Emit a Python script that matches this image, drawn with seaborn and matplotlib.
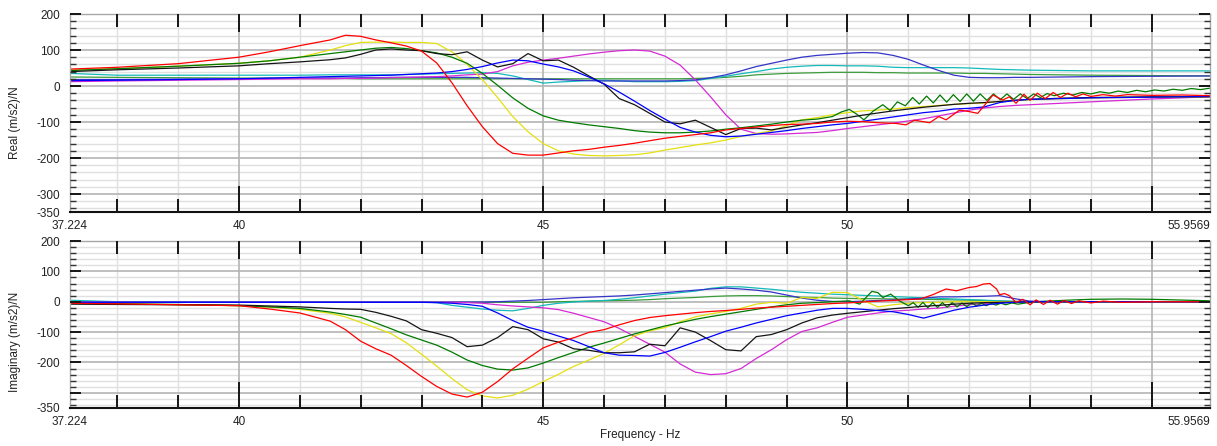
import matplotlib
matplotlib.use("Agg")
import matplotlib.pyplot as plt
import pandas as pd
import seaborn as sns
from matplotlib.ticker import MultipleLocator

# ---------------- data ----------------
freq = [37.224, 38, 39, 40, 40.5, 41, 41.5, 41.75,
        42, 42.25, 42.5, 42.75, 43, 43.25, 43.5, 43.75,
        44, 44.25, 44.5, 44.75, 45, 45.25, 45.5, 45.75,
        46, 46.25, 46.5, 46.75, 47, 47.25, 47.5, 47.75,
        48, 48.25, 48.5, 48.75, 49, 49.25, 49.5, 49.75,
        50, 50.25, 50.5, 50.75, 51, 51.25, 51.5, 51.75,
        52, 52.25, 52.5, 52.75, 53, 53.5, 54, 55, 55.9569]

# ---- Real part (m/s2)/N ----
red_re_freq = [37.224, 38, 39, 40, 40.5, 41, 41.5, 41.75,
               42, 42.25, 42.5, 42.75, 43, 43.25, 43.5, 43.75,
               44, 44.25, 44.5, 44.75, 45, 45.25, 45.5, 45.75,
               46, 46.25, 46.5, 46.75, 47, 47.25, 47.5, 47.75,
               48, 48.25, 48.5, 48.75, 49, 49.25, 49.5, 49.75,
               50, 50.25, 50.5, 50.8, 50.96, 51.1, 51.35, 51.5,
               51.62, 51.84, 52.0, 52.14, 52.28, 52.39, 52.55, 52.66,
               52.77, 52.9, 53.0, 53.12, 53.25, 53.38, 53.5, 53.62,
               53.75, 53.87, 54.0, 54.2, 54.4, 54.6, 55, 55.5, 55.9569]
red_re = [47, 52, 62, 80, 95, 112, 128, 141,
          138, 128, 120, 111, 97, 64, 9, -55,
          -113, -160, -187, -192, -192, -186, -180, -176,
          -170, -165, -159, -152, -145, -140, -135, -130,
          -122, -118, -114, -110, -107, -106, -104, -100,
          -98, -99, -102, -104, -108, -95, -102, -85,
          -94, -67, -71, -76, -48, -25, -39, -30,
          -48, -23, -40, -20, -35, -18, -32, -20,
          -30, -22, -29, -24, -28, -24, -26, -25, -27]
yellow_re = [44, 48, 55, 63, 70, 80, 100, 112,
             121, 122, 122, 121, 121, 118, 95, 60,
             18, -32, -85, -127, -160, -180, -189, -193,
             -194, -193, -191, -186, -178, -171, -164, -158,
             -150, -140, -132, -125, -110, -94, -88, -80,
             -74, -69, -67, -64, -60, -57, -54, -51,
             -49, -47, -43, -40, -38, -35, -33, -31, -30]
green_re_freq = [37.224, 38, 39, 40, 40.5, 41, 41.5, 41.75,
                 42, 42.25, 42.5, 42.75, 43, 43.25, 43.5, 43.75,
                 44, 44.25, 44.5, 44.75, 45, 45.25, 45.5, 45.75,
                 46, 46.25, 46.5, 46.75, 47, 47.25, 47.5, 47.75,
                 48, 48.25, 48.5, 48.75, 49, 49.25, 49.5, 49.75,
                 49.9, 50.03, 50.15, 50.27, 50.42, 50.58, 50.7, 50.82,
                 50.95, 51.07, 51.18, 51.3, 51.41, 51.52, 51.63, 51.74,
                 51.85, 51.96, 52.07, 52.18, 52.29, 52.4, 52.51, 52.62,
                 52.73, 52.84, 52.95, 53.06, 53.17, 53.28, 53.4, 53.55,
                 53.7, 53.85, 54.0, 54.15, 54.3, 54.45, 54.6, 54.75,
                 54.9, 55.05, 55.2, 55.35, 55.5, 55.65, 55.8, 55.9569]
green_re = [43, 48, 55, 63, 70, 80, 90, 95,
            100, 105, 107, 104, 98, 92, 80, 63,
            35, 2, -33, -62, -83, -95, -102, -108,
            -113, -118, -124, -128, -130, -130, -128, -125,
            -120, -116, -111, -106, -100, -95, -92, -85,
            -72, -65, -78, -94, -70, -52, -68, -44,
            -55, -32, -50, -28, -47, -25, -45, -24,
            -43, -22, -42, -22, -40, -22, -38, -22,
            -37, -22, -35, -22, -32, -21, -27, -20,
            -25, -18, -22, -16, -20, -14, -18, -12,
            -16, -11, -14, -9, -12, -7, -10, -6]
black_re = [40, 45, 50, 56, 62, 67, 73, 78,
            88, 100, 103, 100, 98, 90, 87, 95,
            72, 53, 62, 90, 70, 72, 52, 28,
            5, -35, -52, -76, -100, -105, -95, -115,
            -135, -118, -117, -122, -115, -108, -102, -95,
            -88, -81, -75, -69, -64, -59, -55, -51,
            -48, -46, -43, -40, -37, -34, -32, -30, -30]
blue_re = [15, 16, 18, 20, 22, 24, 26, 27,
           28, 29, 30, 32, 34, 36, 40, 46,
           54, 64, 72, 70, 61, 53, 42, 25,
           6, -17, -42, -68, -92, -115, -128, -137,
           -141, -139, -134, -129, -124, -118, -113, -108,
           -104, -98, -92, -86, -80, -74, -70, -64,
           -62, -58, -46, -40, -37, -35, -33, -31, -29]
magenta_re = [12, 14, 16, 18, 19, 20, 20, 21,
              21, 22, 23, 24, 25, 26, 28, 31,
              33, 40, 56, 66, 72, 77, 83, 89,
              94, 98, 100, 97, 83, 58, 17, -30,
              -80, -120, -132, -134, -133, -131, -129, -124,
              -118, -113, -108, -103, -97, -91, -83, -75,
              -67, -61, -57, -54, -52, -48, -44, -36, -30]
cyan_re = [35, 30, 30, 30, 30, 30, 31, 31,
           31, 31, 31, 32, 33, 34, 35, 36,
           37, 35, 28, 18, 8, 11, 13, 15,
           16, 14, 12, 12, 12, 13, 15, 21,
           27, 34, 40, 47, 52, 55, 57, 57,
           56, 56, 55, 52, 51, 51, 51, 51,
           50, 48, 46, 45, 44, 43, 42, 42, 42]
mblue_re = [18, 18, 19, 20, 21, 22, 22, 22,
            23, 23, 24, 24, 24, 24, 24, 24,
            23, 22, 21, 20, 19, 18, 16, 15,
            14, 14, 14, 14, 14, 15, 17, 23,
            31, 42, 54, 63, 72, 80, 85, 88,
            91, 93, 92, 85, 74, 58, 43, 30,
            24, 23, 23, 24, 24, 25, 26, 27, 28]
mgreen_re = [25, 24, 23, 22, 22, 21, 21, 21,
             20, 20, 20, 20, 20, 20, 20, 20,
             20, 20, 20, 20, 20, 20, 20, 20,
             20, 20, 20, 20, 20, 20, 21, 22,
             24, 27, 31, 33, 35, 36, 37, 38,
             38, 38, 37, 37, 36, 36, 36, 36,
             35, 35, 34, 33, 32, 31, 30, 29, 28]

# ---- Imaginary part (m/s2)/N ----
red_im_freq = [37.224, 38, 39, 40, 40.5, 41, 41.5, 41.75,
               42, 42.25, 42.5, 42.75, 43, 43.25, 43.5, 43.75,
               44, 44.25, 44.5, 44.75, 45, 45.25, 45.5, 45.75,
               46, 46.25, 46.5, 46.75, 47, 47.25, 47.5, 47.75,
               48, 48.25, 48.5, 48.75, 49, 49.25, 49.5, 49.75,
               50, 50.4, 50.8, 51.2, 51.4, 51.62, 51.79, 52.0,
               52.12, 52.23, 52.34, 52.45, 52.5, 52.58, 52.66, 52.77,
               52.88, 53.0, 53.1, 53.22, 53.33, 53.45, 53.56, 53.68,
               53.8, 54.0, 54.2, 54.5, 55, 55.9569]
red_im = [-5, -7, -10, -13, -24, -37, -64, -92,
          -130, -155, -176, -210, -246, -279, -304, -314,
          -298, -263, -221, -186, -152, -133, -119, -101,
          -92, -76, -62, -52, -46, -41, -36, -32,
          -29, -25, -21, -18, -15, -12, -9, -6,
          -4, 1, 5, 9, 23, 42, 36, 47,
          50, 58, 60, 42, 23, 27, 20, -2,
          8, -10, 6, -9, 5, -8, 4, -6,
          3, -4, 2, -2, 0, 0]
yellow_im = [-5, -7, -10, -13, -18, -25, -38, -50,
             -68, -86, -105, -135, -173, -212, -253, -290,
             -310, -317, -308, -288, -263, -239, -213, -192,
             -170, -142, -112, -96, -85, -66, -50, -40,
             -32, -22, -8, -2, -5, 14, 11, 31,
             30, 5, -17, -10, -5, -3, -2, 0,
             0, 0, 0, 0, 0, 0, 0, 0, 0]
green_im_freq = [37.224, 38, 39, 40, 40.5, 41, 41.5, 41.75,
                 42, 42.25, 42.5, 42.75, 43, 43.25, 43.5, 43.75,
                 44, 44.25, 44.5, 44.75, 45, 45.25, 45.5, 45.75,
                 46, 46.25, 46.5, 46.75, 47, 47.25, 47.5, 47.75,
                 48, 48.25, 48.5, 48.75, 49, 49.25, 49.5, 49.75,
                 50.03, 50.2, 50.4, 50.5, 50.58, 50.71, 50.85, 51.0,
                 51.08, 51.16, 51.24, 51.32, 51.4, 51.48, 51.56, 51.64,
                 51.72, 51.8, 51.88, 51.96, 52.04, 52.12, 52.2, 52.28,
                 52.36, 52.44, 52.52, 52.6, 52.7, 52.8, 53, 53.3,
                 53.6, 54, 54.5, 55, 55.9569]
green_im = [-5, -7, -9, -13, -17, -22, -34, -42,
            -51, -70, -89, -109, -126, -143, -166, -192,
            -210, -222, -225, -218, -202, -184, -167, -150,
            -136, -121, -106, -93, -80, -69, -58, -49,
            -41, -33, -25, -17, -10, -5, -3, 0,
            3, -8, 34, 30, 14, 25, 3, -13,
            -3, -18, -2, -20, -3, -19, -3, -18,
            -3, -17, -4, -16, -4, -14, -5, -13,
            -5, -11, -5, -10, -4, -8, -2, 2,
            5, 8, 9, 8, 3]
black_im = [-8, -9, -10, -11, -14, -17, -22, -24,
            -25, -35, -48, -63, -92, -104, -118, -148,
            -143, -118, -82, -92, -122, -133, -155, -160,
            -168, -168, -165, -140, -145, -86, -100, -128,
            -158, -162, -115, -108, -92, -70, -53, -44,
            -38, -33, -28, -23, -19, -15, -12, -8,
            -5, -3, -2, -1, 0, 0, 0, 0, 0]
blue_im = [-2, -2, -2, -2, -2, -2, -2, -2,
           -2, -2, -2, -2, -2, -3, -5, -9,
           -15, -37, -62, -84, -97, -113, -128, -148,
           -168, -176, -177, -179, -167, -150, -132, -115,
           -97, -84, -70, -58, -46, -37, -28, -22,
           -22, -25, -29, -33, -42, -54, -41, -28,
           -18, -11, -5, -2, 0, 0, 0, 0, 0]
magenta_im = [-2, -2, -2, -2, -2, -2, -2, -2,
              -2, -2, -2, -2, -2, -2, -2, -3,
              -5, -10, -14, -17, -20, -26, -38, -52,
              -66, -88, -114, -140, -166, -205, -232, -240,
              -237, -220, -187, -158, -125, -98, -86, -68,
              -51, -44, -37, -31, -28, -24, -21, -15,
              -10, -6, -3, -1, 0, 0, 0, 0, 0]
cyan_im = [5, 0, 0, 0, 0, 0, 0, 0,
           -1, -1, -1, -1, -1, -3, -12, -18,
           -24, -28, -30, -22, -12, -5, -1, 2,
           4, 8, 13, 19, 25, 30, 35, 44,
           49, 49, 45, 41, 36, 31, 28, 25,
           23, 21, 19, 17, 15, 13, 11, 9,
           7, 5, 3, 1, 0, 0, 0, 0, 0]
mblue_im = [-1, -1, -1, -1, -1, -1, -1, -1,
            -1, -1, -1, -1, -1, -1, -1, -1,
            -1, 0, 2, 4, 7, 10, 13, 15,
            17, 19, 22, 26, 30, 34, 38, 42,
            45, 42, 38, 32, 22, 12, 5, 1,
            0, 2, 4, 6, 9, 12, 16, 16,
            17, 18, 20, 10, 2, 0, 0, 0, 0]
mgreen_im = [-2, -2, -2, -2, -2, -2, -2, -2,
             -2, -2, -2, -2, -2, -2, -2, -2,
             -2, -2, -2, -2, -2, 0, 1, 2,
             3, 4, 5, 7, 10, 12, 14, 17,
             19, 20, 20, 19, 17, 15, 14, 12,
             11, 10, 10, 9, 9, 8, 7, 6,
             5, 4, 2, 1, 0, 0, 0, 0, 0]

series_order = ["mgreen", "cyan", "mblue", "magenta", "yellow",
                "green", "black", "blue", "red"]
palette = {"red": "#ff0000", "yellow": "#e4e010", "green": "#007a00",
           "black": "#151515", "blue": "#0000ff", "magenta": "#d42ad4",
           "cyan": "#14b9b9", "mblue": "#3434c8", "mgreen": "#3c9c3c"}

real_parts = {"red": (red_re_freq, red_re), "yellow": (freq, yellow_re),
              "green": (green_re_freq, green_re), "black": (freq, black_re),
              "blue": (freq, blue_re), "magenta": (freq, magenta_re),
              "cyan": (freq, cyan_re), "mblue": (freq, mblue_re),
              "mgreen": (freq, mgreen_re)}
imag_parts = {"red": (red_im_freq, red_im), "yellow": (freq, yellow_im),
              "green": (green_im_freq, green_im), "black": (freq, black_im),
              "blue": (freq, blue_im), "magenta": (freq, magenta_im),
              "cyan": (freq, cyan_im), "mblue": (freq, mblue_im),
              "mgreen": (freq, mgreen_im)}

XMIN, XMAX = 37.224, 55.9569
x_ticks = [XMIN, 40, 45, 50, 55, XMAX]
x_ticklabels = ["37.224", "40", "45", "50", "", "55.9569"]
y_ticks = [-350, -300, -200, -100, 0, 100, 200]
y_ticklabels_top = ["-350", "-300", "-200", "-100", "0", "100", "200"]
y_ticklabels_bot = ["-350", "", "-200", "-100", "0", "100", "200"]


def to_long(parts):
    rows = []
    for name, (fs, vals) in parts.items():
        for f, v in zip(fs, vals):
            rows.append((name, f, v))
    return pd.DataFrame(rows, columns=["series", "freq", "value"])


sns.set_style("white")
plt.rcParams["font.family"] = ["Liberation Sans", "DejaVu Sans"]

W, H = 1217, 446
fig = plt.figure(figsize=(W / 100, H / 100), dpi=100)
ax1 = fig.add_axes([70 / W, 1 - 212 / H, 1140 / W, 198 / H])
ax2 = fig.add_axes([70 / W, 1 - 408 / H, 1140 / W, 167 / H])

FS = 8.5
TICKC = "#1a1a1a"
GRID_MAJ = "#b4b4b4"
GRID_MIN = "#e0e0e0"
TW = 1.44  # 2 px


def style(ax, ylabels, ylabel, ylab_y):
    ax.set_xlim(XMIN, XMAX)
    ax.set_ylim(-350, 200)
    ax.set_xticks(x_ticks)
    ax.set_xticklabels(x_ticklabels)
    ax.xaxis.set_minor_locator(MultipleLocator(1))
    ax.set_yticks(y_ticks)
    ax.set_yticklabels(ylabels)
    ax.yaxis.set_minor_locator(MultipleLocator(20))
    ax.set_axisbelow(False)
    ax.grid(False)
    ax.tick_params(axis="x", which="major", direction="in", length=18.5,
                   width=TW, color=TICKC, top=True, bottom=True, pad=5.5,
                   labelsize=FS, labelcolor="#222222")
    ax.tick_params(axis="x", which="minor", direction="in", length=9.3,
                   width=TW, color=TICKC, top=True, bottom=True)
    ax.tick_params(axis="y", which="major", direction="in", length=8,
                   width=TW, color=TICKC, left=True, right=True, pad=7,
                   labelsize=FS, labelcolor="#222222")
    ax.tick_params(axis="y", which="minor", direction="in", length=4.3,
                   width=1.0, color="#333333", left=True, right=True)
    # grid lines beneath everything, at the axis' own tick positions
    for x in ax.xaxis.get_minorticklocs():
        ax.axvline(x, color=GRID_MIN, lw=1.0, zorder=0.3)
    for y in ax.yaxis.get_minorticklocs():
        ax.axhline(y, color=GRID_MIN, lw=1.0, zorder=0.3)
    for x in ax.get_xticks()[1:-1]:
        ax.axvline(x, color=GRID_MAJ, lw=1.2, zorder=0.4)
    for y in ax.get_yticks()[1:-1]:
        ax.axhline(y, color=GRID_MAJ, lw=1.2, zorder=0.4)
    for side in ("top", "left", "right"):
        ax.spines[side].set_color("#a8a8a8")
        ax.spines[side].set_linewidth(1.0)
    ax.spines["bottom"].set_color("#111111")
    ax.spines["bottom"].set_linewidth(1.5)
    xt = ax.xaxis.get_major_ticks()
    for i in (0, len(xt) - 1):
        xt[i].tick1line.set_visible(False)
        xt[i].tick2line.set_visible(False)
    for i in range(1, len(xt) - 1):
        xt[i].tick2line.set_markersize(13)
    xt[-1].label1.set_horizontalalignment("right")
    yt = ax.yaxis.get_major_ticks()
    yt[0].tick1line.set_visible(False)
    yt[0].tick2line.set_visible(False)
    ax.set_ylabel(ylabel, fontsize=FS, color="#222222")
    ax.yaxis.set_label_coords(-0.043, ylab_y)


for ax, parts in ((ax1, real_parts), (ax2, imag_parts)):
    sns.lineplot(data=to_long(parts), x="freq", y="value", hue="series",
                 hue_order=series_order, palette=palette, estimator=None,
                 sort=False, legend=False, linewidth=0.9, ax=ax)

style(ax1, y_ticklabels_top, "Real (m/s2)/N", 0.45)
style(ax2, y_ticklabels_bot, "Imaginary (m/s2)/N", 0.397)
ax1.set_xlabel("")
ax2.set_xlabel("Frequency - Hz", fontsize=FS, color="#222222")
ax2.xaxis.set_label_coords(0.5, -0.125)

fig.savefig("out.png", dpi=100)
